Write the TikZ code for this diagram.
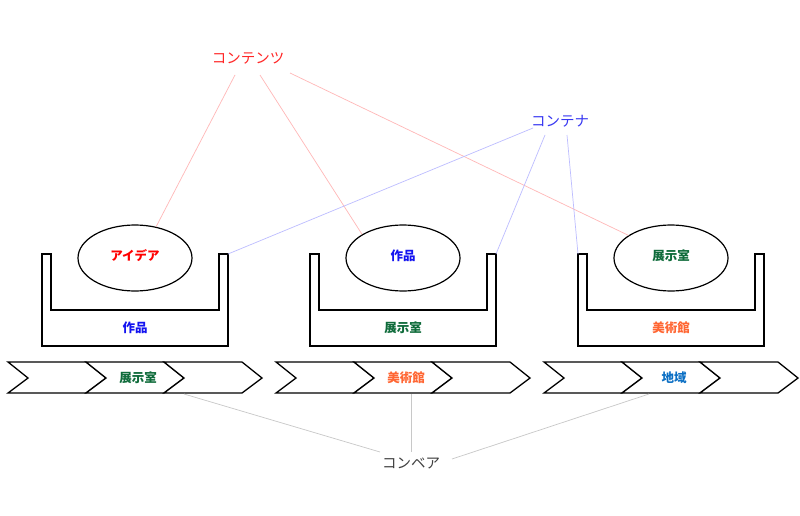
\documentclass[tikz,border=0pt]{standalone}
\usepackage{fontspec}
\newfontfamily\jp{Noto Sans CJK JP}
\usetikzlibrary{shapes.geometric}
\definecolor{cred}{HTML}{FF0000}
\definecolor{cblue}{HTML}{1414F0}
\definecolor{cgreen}{HTML}{0E6B3A}
\definecolor{corange}{HTML}{FF6633}
\definecolor{csky}{HTML}{0B6FC4}
\definecolor{lred}{HTML}{FFB8B8}
\definecolor{lblue}{HTML}{BDBDFF}
\definecolor{lgray}{HTML}{C8C8C8}
\tikzset{
  lab/.style={font=\jp\bfseries\fontsize{12.5}{13}\selectfont, inner sep=0pt},
  toplab/.style={font=\jp\fontsize{14.5}{15}\selectfont, inner sep=0pt},
  bowl/.style={draw=black, line width=1.2pt, ellipse, minimum width=114pt, minimum height=66pt, inner sep=0pt, fill=white},
  tray/.style={draw=black, line width=1.3pt, fill=white},
  chev/.style={draw=black, line width=1.3pt, fill=white, line join=miter},
  redl/.style={draw=lred, line width=0.7pt},
  bluel/.style={draw=lblue, line width=0.7pt},
  grayl/.style={draw=lgray, line width=0.7pt}
}
\begin{document}
\begin{tikzpicture}[x=1pt,y=-1pt]
\useasboundingbox[fill=white] (0,0) rectangle (800,516);
% trays and chevrons
\foreach \o in {0,268,536}{
  \begin{scope}[xshift=\o]
  \draw[tray] (42,254) -- (42,346) -- (228,346) -- (228,254) -- (219,254) -- (219,310) -- (51,310) -- (51,254) -- cycle;
  \foreach \s in {8,86,164}{
    \draw[chev] (\s,362) -- (\s+78,362) -- (\s+98,378) -- (\s+78,393) -- (\s,393) -- (\s+20,378) -- cycle;
  }
  \end{scope}
}
\node[bowl] (e1) at (135,258) {};
\node[bowl] (e2) at (403,258) {};
\node[bowl] (e3) at (671,258) {};
\node[lab, text=cred] (l1) at (135,256) {アイデア};
\node[lab, text=cblue] (l2) at (403,256) {作品};
\node[lab, text=cgreen] (l3) at (671,256) {展示室};
\node[lab, text=cblue] (t1) at (135,328) {作品};
\node[lab, text=cgreen] (t2) at (403,328) {展示室};
\node[lab, text=corange] (t3) at (671,328) {美術館};
\node[lab, text=cgreen] (k1) at (138,378) {展示室};
\node[lab, text=corange] (k2) at (406,378) {美術館};
\node[lab, text=csky] (k3) at (674,378) {地域};
% top labels
\node[toplab, text=cred!85] (ct) at (248,58) {コンテンツ};
\node[toplab, text=cblue!85] (cn) at (560,121) {コンテナ};
\node[toplab, text=black!75] (cv) at (411,463) {コンベア};
% connector anchor coordinates
\coordinate (r1) at (235,75);
\coordinate (r2) at (260,75);
\coordinate (r3) at (290,73);
\coordinate (b1) at (533,128);
\coordinate (b2) at (545,135);
\coordinate (b3) at (567,135);
\coordinate (tr1) at (228,254);
\coordinate (tr2) at (496,254);
\coordinate (tl3) at (578,254);
\coordinate (g1) at (184,394);
\coordinate (g2) at (411,394);
\coordinate (g3) at (649,394);
\coordinate (h1) at (380,452);
\coordinate (h2) at (411,452);
\coordinate (h3) at (452,459);
% connectors
\draw[redl] (r1) -- (e1.56);
\draw[redl] (r2) -- (e2.150);
\draw[redl] (r3) -- (e3.152);
\draw[bluel] (b1) -- (tr1);
\draw[bluel] (b2) -- (tr2);
\draw[bluel] (b3) -- (tl3);
\draw[grayl] (g1) -- (h1);
\draw[grayl] (g2) -- (h2);
\draw[grayl] (g3) -- (h3);
\end{tikzpicture}
\end{document}
